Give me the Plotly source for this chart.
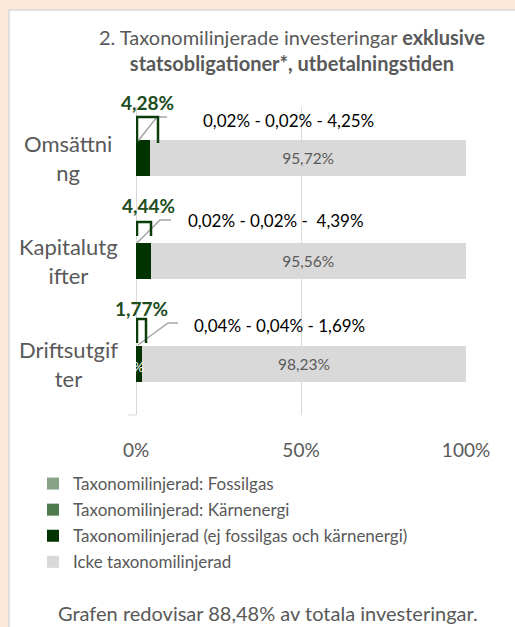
import plotly.graph_objects as go

# ---------------- data ----------------
categories = ["Omsättning", "Kapitalutgifter", "Driftsutgifter"]
category_labels = ["Omsättni<br>ng", "Kapitalutg<br>ifter", "Driftsutgif<br>ter"]
fossilgas = [0.02, 0.02, 0.04]
karnenergi = [0.02, 0.02, 0.04]
aligned_other = [4.25, 4.39, 1.69]
not_aligned = [95.72, 95.56, 98.23]
total_labels = ["4,28%", "4,44%", "1,77%"]
breakdown_labels = ["0,02% - 0,02% - 4,25%", "0,02% - 0,02% -  4,39%", "0,04% - 0,04% - 1,69%"]
series_names = [
    "Taxonomilinjerad: Fossilgas",
    "Taxonomilinjerad: Kärnenergi",
    "Taxonomilinjerad (ej fossilgas och kärnenergi)",
    "Icke taxonomilinjerad",
]
x_ticks = [0, 50, 100]
x_tick_labels = ["0%", "50%", "100%"]
title_text = "2. Taxonomilinjerade investeringar <b>exklusive</b><br><b>statsobligationer*, utbetalningstiden</b>"
footer_text = "Grafen redovisar 88,48% av totala investeringar."

# ---------------- style / layout ----------------
W, H = 515, 627
PL, PR, PT, PB = 136, 466, 107, 415  # plot area in pixels
FONT = "Lato"
GREY_TXT = "#595959"
colors = ["#87a387", "#4e7a4e", "#003300", "#d9d9d9"]
bar_width = 0.35

def fmt(v):
    return f"{v:.2f}".replace(".", ",") + "%"

def xpx(px):  # pixel -> x data
    return (px - PL) / (PR - PL) * 100

def ypx(py):  # pixel -> y data (reversed category axis)
    return -0.5 + (py - PT) / ((PB - PT) / 3)

def xpap(px):
    return (px - PL) / (PR - PL)

def ypap(py):
    return (PB - py) / (PB - PT)

ypos = list(range(len(categories)))

fig = go.Figure()
series = [fossilgas, karnenergi, aligned_other, not_aligned]
for i, (name, vals) in enumerate(zip(series_names, series)):
    kw = {}
    if i == 3:
        kw = dict(text=[fmt(v) for v in vals], textposition="inside",
                  insidetextanchor="middle",
                  textfont=dict(family=FONT, size=15.5, color=GREY_TXT))
    fig.add_trace(go.Bar(
        y=ypos, x=vals, orientation="h", name=name,
        marker=dict(color=colors[i], line=dict(width=0)),
        width=bar_width, legendgroup=f"g{i}", hoverinfo="skip", **kw))

shapes = []
# white panel
shapes.append(dict(type="rect", xref="paper", yref="paper",
                   x0=xpap(9), x1=xpap(530), y0=ypap(10), y1=ypap(640),
                   fillcolor="white", line=dict(color="#d9d9d9", width=1.5),
                   layer="below"))
# small axis tick at bottom-left
shapes.append(dict(type="line", xref="paper", yref="paper",
                   x0=xpap(128), x1=xpap(136), y0=0, y1=0,
                   line=dict(color="#d9d9d9", width=1)))

# callout geometry (pixels): bracket x-left, x-right, top, bottom; leader points
callouts = [
    dict(total=(147, 102), br=(137, 158, 117, 143), lead=[(138, 141), (157, 117), (167, 117)], txt=(288, 121)),
    dict(total=(148, 205), br=(137, 151, 222, 236), lead=[(137, 243), (160, 220), (171, 220)], txt=(276, 220)),
    dict(total=(141, 308), br=(137, 146, 319, 343), lead=[(138, 345), (168, 323), (178, 323)], txt=(279, 325)),
]

annotations = []
for i, c in enumerate(callouts):
    pts = c["lead"]
    path = "M" + " L".join(f"{xpx(px)},{ypx(py)}" for px, py in pts)
    shapes.append(dict(type="path", xref="x", yref="y", path=path,
                       line=dict(color="#a6a6a6", width=1.5)))
    x0, x1, t, b = c["br"]
    bp = f"M{xpx(x0)},{ypx(b)} L{xpx(x0)},{ypx(t)} L{xpx(x1)},{ypx(t)} L{xpx(x1)},{ypx(b)}"
    shapes.append(dict(type="path", xref="x", yref="y", path=bp,
                       line=dict(color="#0b3d0b", width=2.5)))
    annotations.append(dict(x=xpap(c["total"][0]), y=ypap(c["total"][1]), xref="paper", yref="paper",
                            xanchor="center", yanchor="middle",
                            text=f"<b>{total_labels[i]}</b>", showarrow=False,
                            font=dict(family=FONT, size=19, color="#1e4d1e")))
    annotations.append(dict(x=xpap(c["txt"][0]), y=ypap(c["txt"][1]), xref="paper", yref="paper",
                            xanchor="center", yanchor="middle",
                            text=breakdown_labels[i], showarrow=False,
                            font=dict(family=FONT, size=17, color="#000000")))

# category labels (centered, wrapped)
for i, lab in enumerate(category_labels):
    annotations.append(dict(x=xpap(68), y=ypos[i], xref="paper", yref="y",
                            xanchor="center", yanchor="middle",
                            text=lab, showarrow=False, align="center",
                            font=dict(family=FONT, size=22, color=GREY_TXT)))

# stray white label on last bar
annotations.append(dict(x=xpap(135), y=ypap(366), xref="paper", yref="paper", text="x%",
                        xanchor="center", yanchor="middle",
                        showarrow=False, font=dict(family=FONT, size=14, color="white")))

# title
annotations.append(dict(x=xpap(292), y=ypap(50), xref="paper", yref="paper",
                        xanchor="center", yanchor="middle",
                        text=title_text, showarrow=False, align="center",
                        font=dict(family=FONT, size=20, color=GREY_TXT)))
# footer
annotations.append(dict(x=xpap(268), y=ypap(613), xref="paper", yref="paper",
                        xanchor="center", yanchor="middle",
                        text=footer_text, showarrow=False,
                        font=dict(family=FONT, size=20, color=GREY_TXT)))

fig.update_layout(
    width=W, height=H,
    margin=dict(l=PL, r=W - PR, t=PT, b=H - PB, pad=0),
    paper_bgcolor="#fce9d9", plot_bgcolor="white",
    barmode="stack", bargap=0.65,
    shapes=shapes, annotations=annotations,
    showlegend=True,
    legend=dict(orientation="v", x=xpap(33), y=ypap(466), xanchor="left", yanchor="top",
                traceorder="grouped", tracegroupgap=1,
                font=dict(family=FONT, size=17, color=GREY_TXT),
                bgcolor="rgba(0,0,0,0)", itemclick=False, itemdoubleclick=False),
    font=dict(family=FONT, color=GREY_TXT),
)
fig.update_xaxes(range=[0, 100], tickvals=x_ticks, ticktext=x_tick_labels,
                 showgrid=True, gridcolor="#d9d9d9", gridwidth=1,
                 zeroline=True, zerolinecolor="#d9d9d9", zerolinewidth=1,
                 showline=False, ticks="", ticklabelstandoff=22,
                 tickfont=dict(family=FONT, size=19, color=GREY_TXT), fixedrange=True)
fig.update_yaxes(range=[2.5, -0.5], showticklabels=False, showgrid=False,
                 zeroline=False, showline=False, fixedrange=True)

fig.write_html("out.html", config={"displayModeBar": False},
               post_script="document.body.style.margin='0';")
